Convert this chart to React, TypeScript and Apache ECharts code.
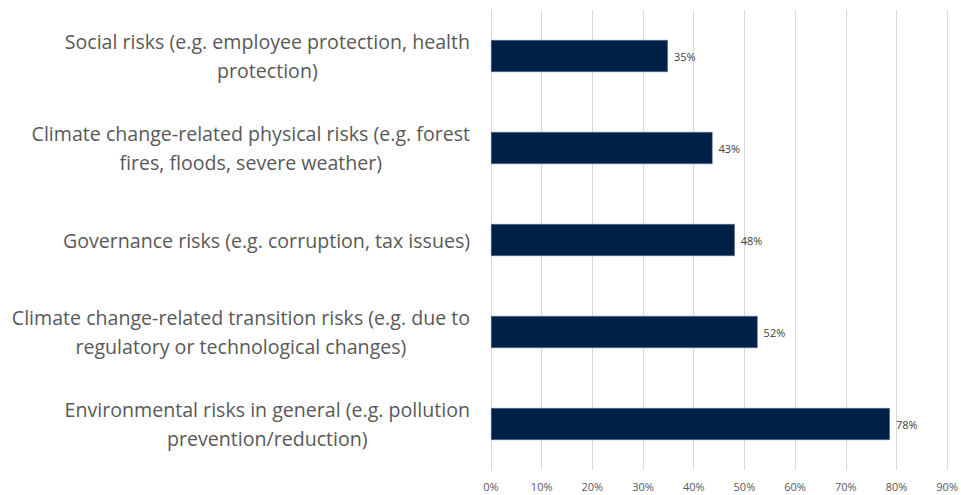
import React, { useEffect, useRef } from "react";
import * as echarts from "echarts";

const categories = [
  "Social risks (e.g. employee protection, health\nprotection)",
  "Climate change-related physical risks (e.g. forest\nfires, floods, severe weather)",
  "Governance risks (e.g. corruption, tax issues)",
  "Climate change-related transition risks (e.g. due to\nregulatory or technological changes)",
  "Environmental risks in general (e.g. pollution\nprevention/reduction)",
];
const values = [34.9, 43.7, 48.1, 52.6, 78.7];
const valueLabels = ["35%", "43%", "48%", "52%", "78%"];

export default function App() {
  const ref = useRef<HTMLDivElement>(null);
  useEffect(() => {
    if (!ref.current) return;
    const chart = echarts.init(ref.current, undefined, { renderer: "svg" });
    chart.setOption({
      animation: false,
      grid: { left: 491, right: 13, top: 10, bottom: 25, containLabel: false },
      xAxis: {
        type: "value",
        min: 0,
        max: 90,
        interval: 10,
        axisLine: { show: false },
        axisTick: { show: false },
        splitLine: { show: true, lineStyle: { color: "#d9d9d9", width: 1 } },
        axisLabel: {
          formatter: (v: number) => v + "%",
          color: "#595959",
          fontFamily: "Open Sans",
          fontSize: 11,
          margin: 11,
        },
      },
      yAxis: {
        type: "category",
        inverse: true,
        data: categories,
        axisLine: { show: true, lineStyle: { color: "#d9d9d9" } },
        axisTick: { show: false },
        axisLabel: {
          color: "#595959",
          fontFamily: "Open Sans",
          fontSize: 19.6,
          lineHeight: 28.5,
          align: "right",
          margin: 21,
          formatter: (v: string) =>
            v
              .split("\n")
              .map((l) => "{a|" + l + "}")
              .join("\n"),
          rich: {
            a: {
              align: "center",
              color: "#595959",
              fontFamily: "Open Sans",
              fontSize: 19.6,
              lineHeight: 28.5,
            },
          },
        },
      },
      series: [
        {
          type: "bar",
          data: values,
          barWidth: 32,
          itemStyle: { color: "#002147", borderColor: "#5a6f8f", borderWidth: 0.5 },
          label: {
            show: true,
            position: "right",
            distance: 6,
            color: "#404040",
            fontFamily: "Open Sans",
            fontSize: 11,
            formatter: (p: any) => valueLabels[p.dataIndex],
          },
        },
      ],
    });
    return () => chart.dispose();
  }, []);
  return <div ref={ref} style={{ width: 961, height: 495, position: "absolute", left: 0, top: 0 }} />;
}
